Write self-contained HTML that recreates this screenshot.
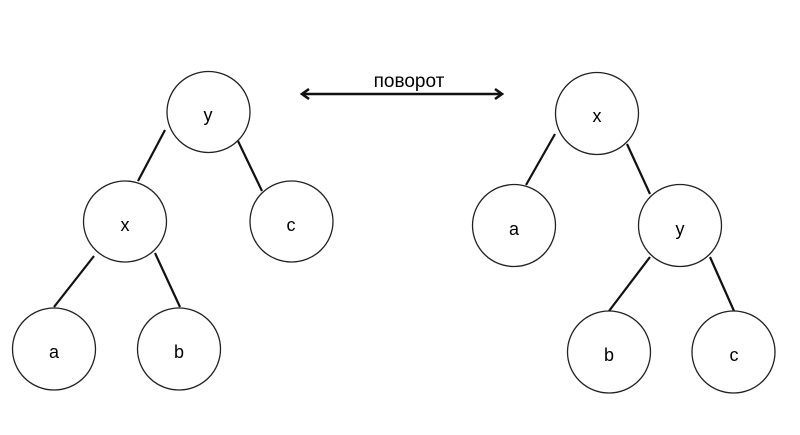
<!DOCTYPE html>
<html><head><meta charset="utf-8"><style>html,body{margin:0;padding:0;background:#fff}svg{display:block}</style></head>
<body>
<svg width="800" height="435" xmlns="http://www.w3.org/2000/svg">
<g stroke="#111" stroke-width="2.2" fill="none">
<line x1="165" y1="130" x2="138" y2="181"/>
<line x1="238" y1="141" x2="262" y2="191"/>
<line x1="94" y1="256" x2="54" y2="307"/>
<line x1="155" y1="253" x2="180" y2="307"/>
<line x1="555" y1="134" x2="526" y2="185"/>
<line x1="627" y1="144" x2="650" y2="194"/>
<line x1="650" y1="257" x2="609" y2="311"/>
<line x1="710" y1="257" x2="734" y2="311"/>
</g>
<g stroke="#111" stroke-width="2.6" fill="none">
<line x1="302" y1="94" x2="502" y2="94"/>
<polyline points="309,89 302,94 309,99"/>
<polyline points="495,89 502,94 495,99"/>
</g>
<g stroke="#222" stroke-width="1.3" fill="#fff">
<ellipse cx="208.5" cy="112" rx="41.5" ry="40.5"/>
<ellipse cx="125" cy="221.5" rx="41.5" ry="40.5"/>
<ellipse cx="291.5" cy="221.5" rx="41.5" ry="40.5"/>
<ellipse cx="54" cy="349" rx="41.5" ry="41"/>
<ellipse cx="179" cy="349" rx="41.5" ry="41"/>
<ellipse cx="597" cy="113.5" rx="41.5" ry="41"/>
<ellipse cx="514" cy="225.5" rx="41.5" ry="41"/>
<ellipse cx="680" cy="225.5" rx="41.5" ry="41"/>
<ellipse cx="609" cy="352" rx="41.5" ry="41"/>
<ellipse cx="733.5" cy="352" rx="41.5" ry="41"/>
</g>
<g font-family="Liberation Sans, sans-serif" font-size="18" fill="#000" text-anchor="middle">
<text x="208" y="121">y</text>
<text x="125" y="231">x</text>
<text x="291" y="231">c</text>
<text x="54" y="358">a</text>
<text x="179" y="358">b</text>
<text x="597" y="122">x</text>
<text x="514" y="235">a</text>
<text x="680" y="235">y</text>
<text x="609" y="361">b</text>
<text x="734" y="361">c</text>
<text x="409" y="87" font-size="19">поворот</text>
</g>
</svg>
</body></html>
